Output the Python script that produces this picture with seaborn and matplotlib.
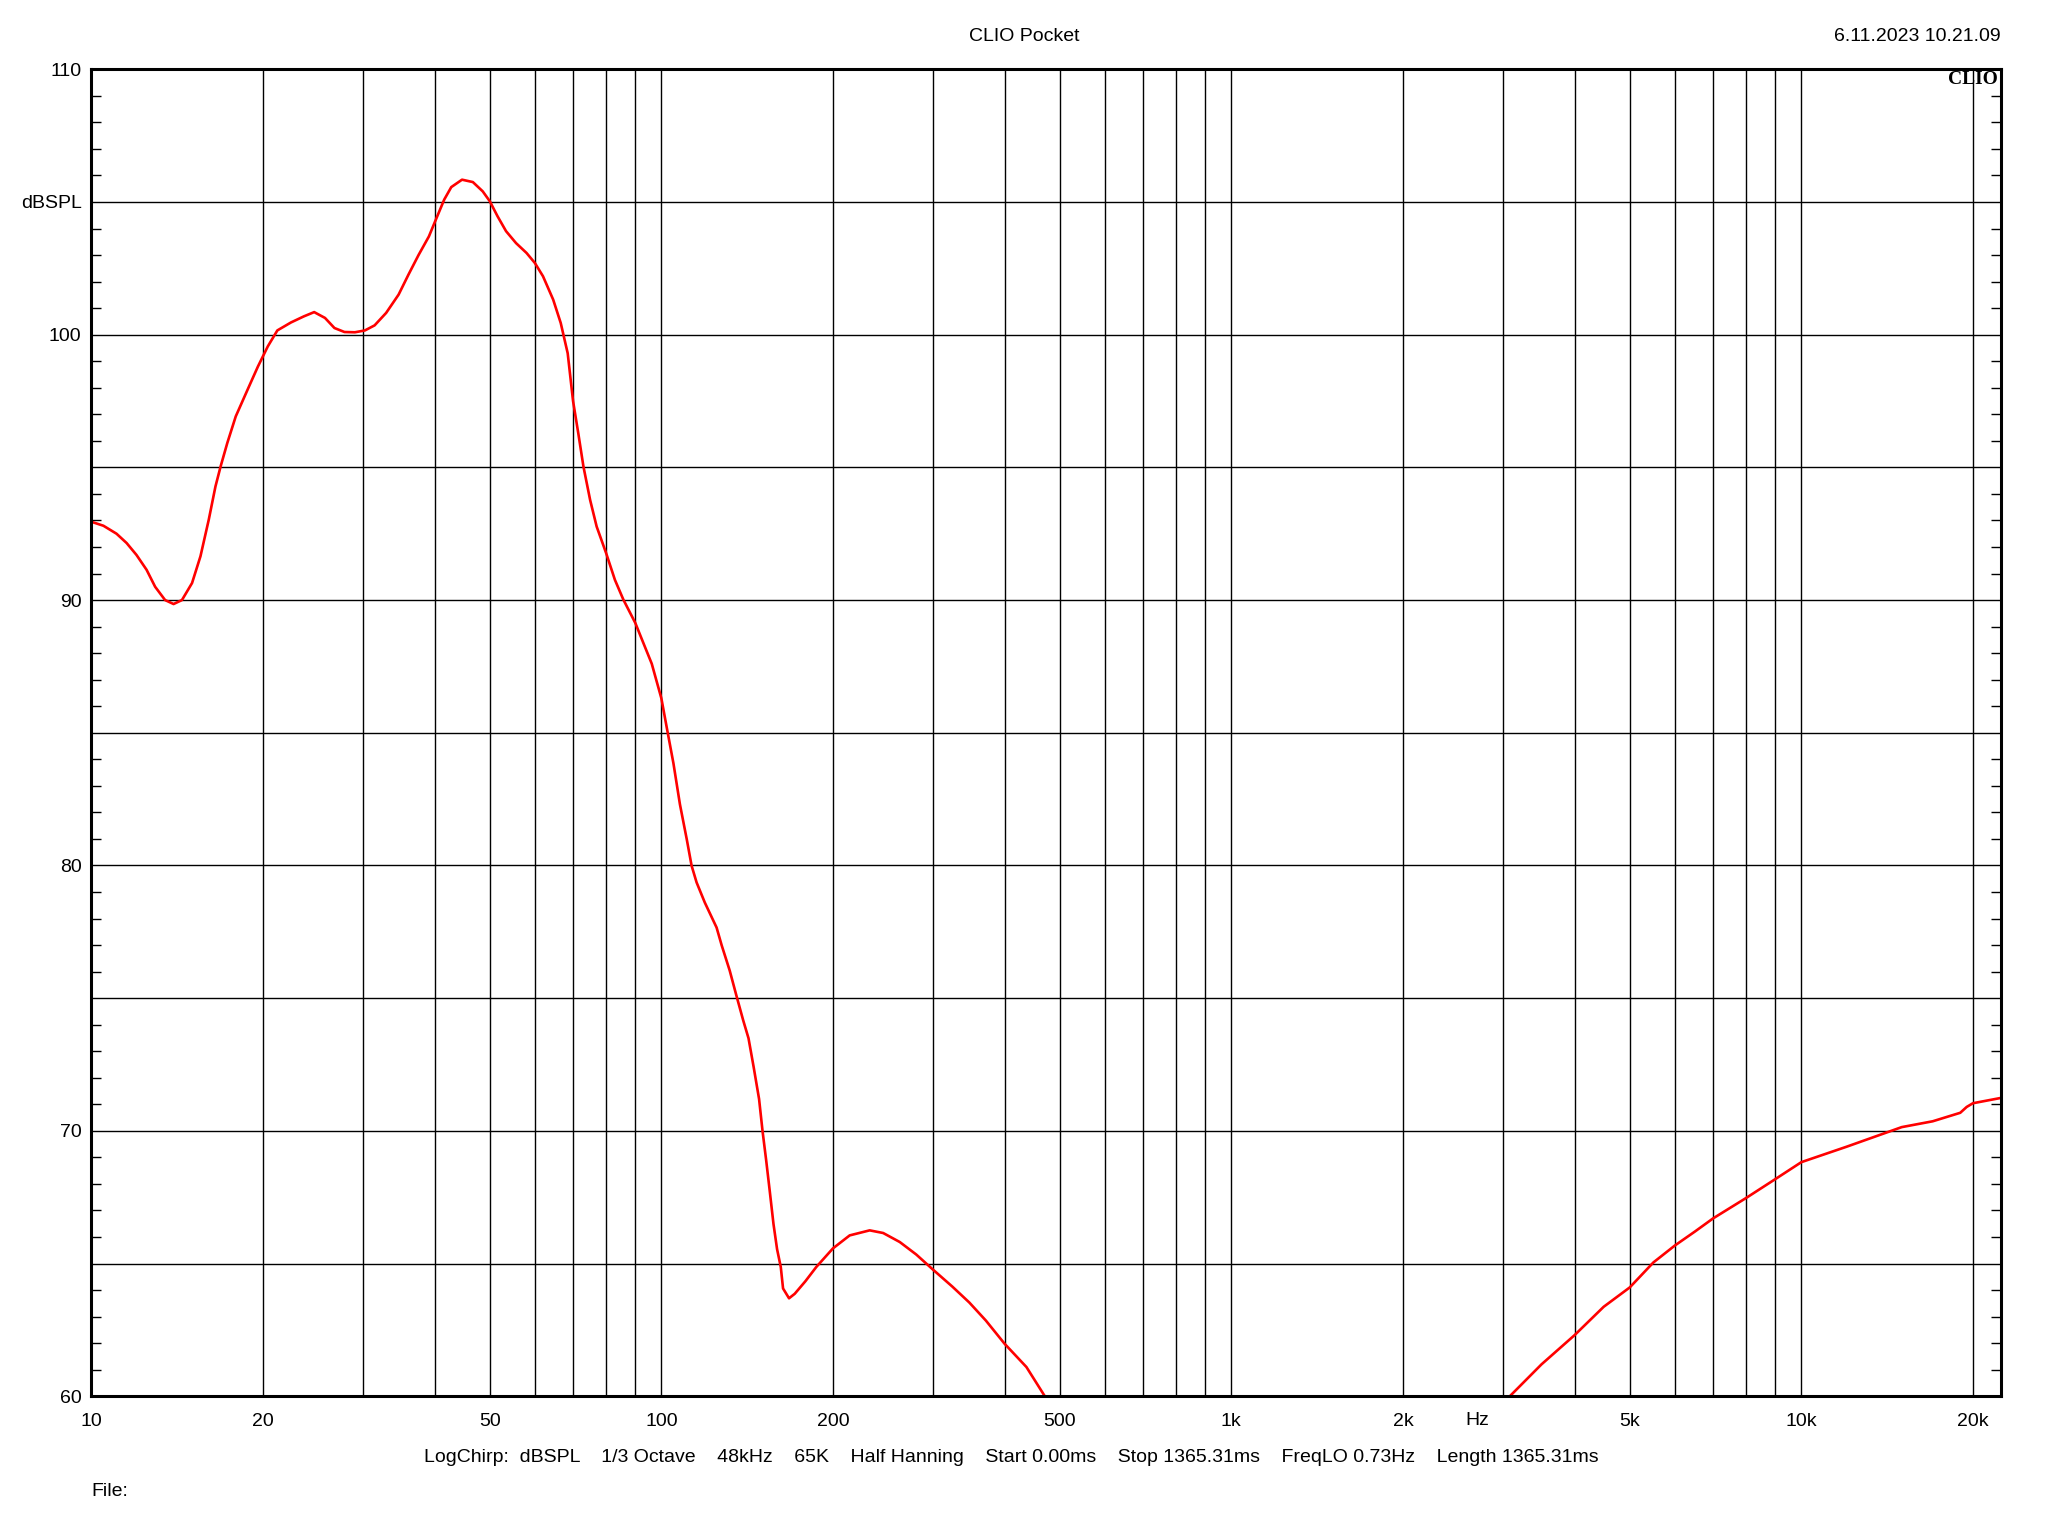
import matplotlib
matplotlib.use("Agg")
import matplotlib.pyplot as plt
from matplotlib.ticker import FixedLocator, FixedFormatter, MultipleLocator
import pandas as pd
import seaborn as sns

# measured response, low band (clipped below 60 dB around 470 Hz)
LOW_FREQ = [10.0, 10.5, 11.07, 11.53, 12.0, 12.5, 12.94, 13.47, 13.94, 14.42,
            15.02, 15.54, 16.07, 16.51, 16.86, 17.32, 17.92, 18.8, 19.6, 20.4,
            21.2, 22.4, 23.6, 24.6, 25.7, 26.7, 27.8, 29.0, 30.2, 31.4,
            32.9, 34.6, 36.0, 37.5, 39.1, 40.1, 41.6, 42.8, 44.7, 46.7,
            48.6, 50.0, 51.6, 53.4, 55.6, 58.0, 60.0, 62.0, 64.6, 66.6,
            68.5, 70.0, 71.5, 73.0, 75.0, 77.0, 80.0, 82.9, 85.8, 90.0,
            93.0, 96.2, 100.0, 102.2, 105.0, 107.8, 110.8, 113.0, 115.3, 119.2,
            125.0, 127.6, 131.8, 135.4, 139.2, 142.2, 145.2, 148.4, 150.5, 152.7,
            155.0, 157.3, 159.6, 162.0, 163.5, 167.5, 171.4, 178.9, 187.0, 200.0,
            214.0, 232.0, 245.0, 262.0, 280.0, 300.0, 324.0, 347.0, 371.0, 400.0,
            437.0, 471.0]
LOW_SPL = [92.95, 92.8, 92.5, 92.15, 91.7, 91.14, 90.5, 90.0, 89.85, 90.0,
           90.64, 91.65, 93.03, 94.28, 95.04, 95.92, 96.92, 97.93, 98.8, 99.56,
           100.16, 100.46, 100.69, 100.85, 100.63, 100.25, 100.1, 100.09, 100.16, 100.35,
           100.82, 101.51, 102.26, 103.0, 103.7, 104.27, 105.09, 105.56, 105.84, 105.75,
           105.4, 105.03, 104.46, 103.9, 103.45, 103.08, 102.7, 102.2, 101.32, 100.44,
           99.3, 97.5, 96.28, 95.03, 93.77, 92.77, 91.77, 90.76, 90.01, 89.14,
           88.38, 87.6, 86.3, 85.2, 83.85, 82.3, 80.99, 79.99, 79.36, 78.6,
           77.66, 76.99, 76.04, 75.1, 74.16, 73.49, 72.4, 71.2, 69.99, 68.9,
           67.7, 66.49, 65.54, 64.87, 64.06, 63.69, 63.86, 64.33, 64.87, 65.57,
           66.06, 66.25, 66.15, 65.81, 65.34, 64.76, 64.13, 63.53, 62.85, 61.98,
           61.1, 59.99]

# measured response, high band
HIGH_FREQ = [3080, 3500, 4000, 4500, 5000, 5500, 6000, 6500, 7000, 8000,
             9000, 10000, 12000, 15000, 17000, 19000, 19500, 20000, 22390]
HIGH_SPL = [60.0, 61.2, 62.3, 63.37, 64.1, 65.04, 65.68, 66.2, 66.7, 67.47,
            68.18, 68.82, 69.4, 70.14, 70.36, 70.68, 70.9, 71.04, 71.24]

GRID_FREQS = [10, 20, 30, 40, 50, 60, 70, 80, 90,
              100, 200, 300, 400, 500, 600, 700, 800, 900,
              1000, 2000, 3000, 4000, 5000, 6000, 7000, 8000, 9000,
              10000, 20000]
FREQ_LABELS = {10: "10", 20: "20", 50: "50", 100: "100", 200: "200", 500: "500",
               1000: "1k", 2000: "2k", 5000: "5k", 10000: "10k", 20000: "20k"}
SPL_TICKS = [60, 65, 70, 75, 80, 85, 90, 95, 100, 105, 110]
SPL_LABELS = ["60", "", "70", "", "80", "", "90", "", "100", "dBSPL", "110"]

FREQ_MIN, FREQ_MAX = 10, 22390
SPL_MIN, SPL_MAX = 60, 110

HEADER = "CLIO Pocket"
STAMP = "6.11.2023 10.21.09"
FOOTER = ("LogChirp:  dBSPL    1/3 Octave    48kHz    65K    Half Hanning    "
          "Start 0.00ms    Stop 1365.31ms    FreqLO 0.73Hz    Length 1365.31ms")

sns.set_theme(style="white")
plt.rcParams["font.family"] = ["Liberation Sans", "DejaVu Sans"]

df = pd.concat([
    pd.DataFrame({"freq": LOW_FREQ, "spl": LOW_SPL, "segment": "low"}),
    pd.DataFrame({"freq": HIGH_FREQ, "spl": HIGH_SPL, "segment": "high"}),
], ignore_index=True)

fig = plt.figure(figsize=(20.48, 15.36), dpi=100, facecolor="white")
ax = fig.add_axes([0.0446, 0.0910, 0.9324, 0.8639])

sns.lineplot(data=df, x="freq", y="spl", units="segment", estimator=None,
             color="#ff0000", linewidth=1.9, ax=ax, legend=False)

ax.set_xscale("log")
ax.set_xlim(FREQ_MIN, FREQ_MAX)
ax.set_ylim(SPL_MIN, SPL_MAX)

ax.xaxis.set_major_locator(FixedLocator(GRID_FREQS))
ax.xaxis.set_major_formatter(FixedFormatter([FREQ_LABELS.get(f, "") for f in GRID_FREQS]))
ax.xaxis.set_minor_locator(FixedLocator([]))
ax.yaxis.set_major_locator(FixedLocator(SPL_TICKS))
ax.yaxis.set_major_formatter(FixedFormatter(SPL_LABELS))
ax.yaxis.set_minor_locator(MultipleLocator(1))

ax.grid(True, which="major", color="black", linewidth=1.0)
ax.tick_params(axis="both", which="major", length=0, labelsize=14, colors="black")
ax.tick_params(axis="x", which="major", pad=12)
ax.tick_params(axis="y", which="major", pad=7)
ax.tick_params(axis="y", which="minor", direction="in", left=True, right=True,
               length=7, width=1.0, color="black")
for spine in ax.spines.values():
    spine.set_color("black")
    spine.set_linewidth(2.2)
ax.set_xlabel("")
ax.set_ylabel("")

ax.text(2700, -0.0185, "Hz", transform=ax.get_xaxis_transform(),
        ha="center", va="center", fontsize=14, color="black")
ax.text(0.9985, 0.9985, "CLIO", transform=ax.transAxes, ha="right", va="top",
        fontsize=14, fontweight="bold", family="Liberation Serif", color="black")

fig.text(0.5000, 0.9762, HEADER, ha="center", va="center", fontsize=14, color="black")
fig.text(0.9770, 0.9762, STAMP, ha="right", va="center", fontsize=14, color="black")
fig.text(0.4936, 0.0510, FOOTER, ha="center", va="center", fontsize=14, color="black")
fig.text(0.0446, 0.0289, "File:", ha="left", va="center", fontsize=14, color="black")

fig.savefig("out.png", dpi=100, facecolor="white")
